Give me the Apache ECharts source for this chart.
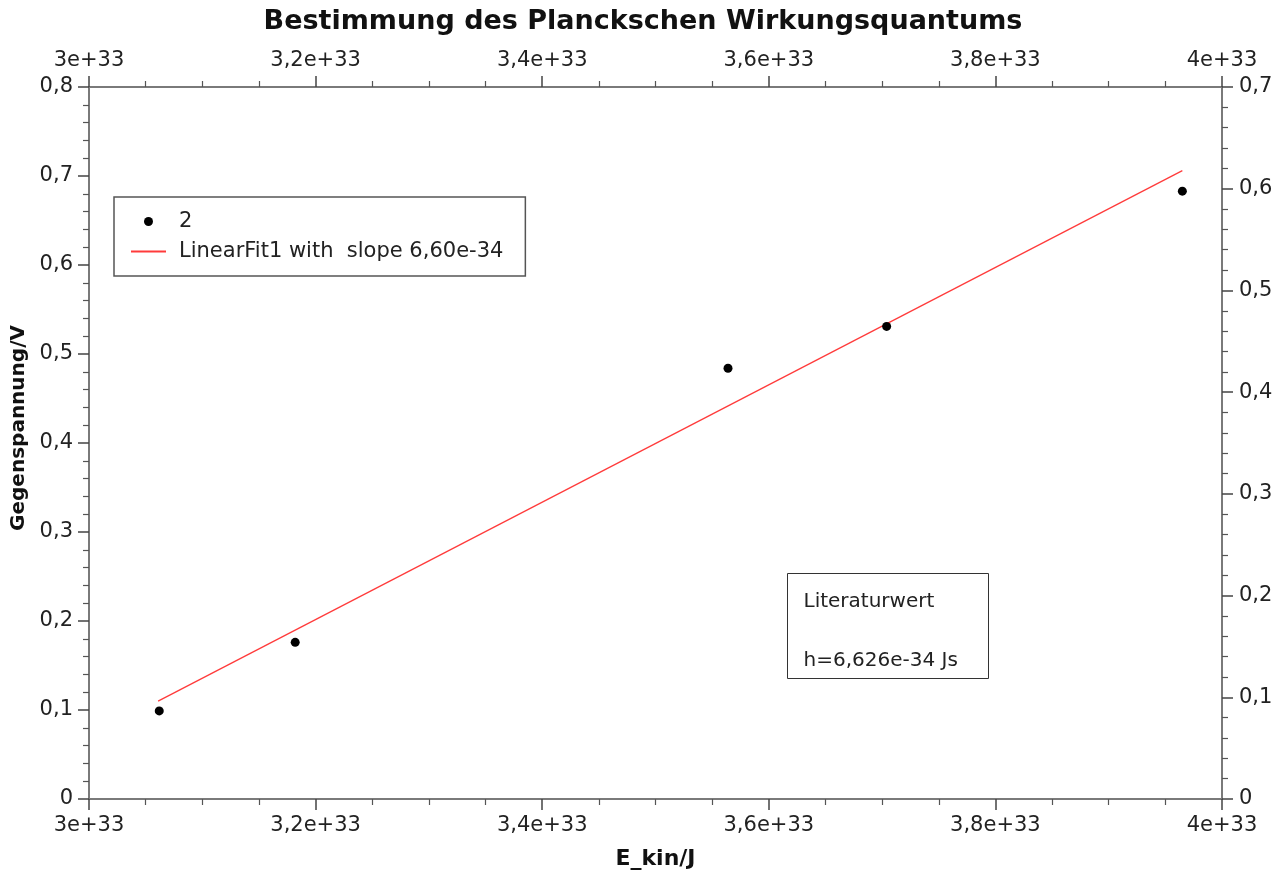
<!DOCTYPE html>
<html>
<head>
<meta charset="utf-8">
<script src="https://cdn.jsdelivr.net/npm/echarts@6/dist/echarts.min.js"></script>
<style>
    html, body { margin: 0; padding: 0; background: #fff; overflow: hidden; }
    #chart { width: 1286px; height: 874px; }
</style>
</head>
<body>
<div id="chart"></div>
<script>
// Messwerte (E_kin in Einheiten von 1e33 J)
var eKin = [3.062, 3.182, 3.564, 3.704, 3.965];
var gegenspannung = [0.099, 0.176, 0.484, 0.531, 0.683];
// Ausgleichsgerade, Anfangs- und Endpunkt
var fitX = [3.061, 3.965];
var fitY = [0.110, 0.706];
// Achsenbeschriftungen
var xTickLabels = ['3e+33', '3,2e+33', '3,4e+33', '3,6e+33', '3,8e+33', '4e+33'];
var yLeftTickLabels = ['0', '0,1', '0,2', '0,3', '0,4', '0,5', '0,6', '0,7', '0,8'];
var yRightTickLabels = ['0', '0,1', '0,2', '0,3', '0,4', '0,5', '0,6', '0,7'];

var FONT = 'DejaVu Sans';
var fitName = 'LinearFit1 with  slope 6,60e-34';

var chart = echarts.init(document.getElementById('chart'));

function xLabel(v) {
    return xTickLabels[Math.round((v - 3) / 0.2)];
}
function yLabel(list) {
    return function (v) { return list[Math.round(v / 0.1)]; };
}

function axisStyle(extra) {
    var base = {
        axisLine: { show: true, onZero: false, lineStyle: { color: '#7a7a7a', width: 2 } },
        axisTick: { show: true, length: 11, lineStyle: { color: '#444', width: 1.5 } },
        splitLine: { show: false }
    };
    for (var k in extra) { base[k] = extra[k]; }
    return base;
}
function minor(n) {
    return { show: true, splitNumber: n, length: 6, lineStyle: { color: '#555', width: 1.2 } };
}
function labels(fmt, margin) {
    return { fontFamily: FONT, fontSize: 21, color: '#222', margin: margin || 16, overflow: 'none', formatter: fmt };
}

var scatterData = eKin.map(function (x, i) { return [x, gegenspannung[i]]; });
var fitData = fitX.map(function (x, i) { return [x, fitY[i]]; });

var option = {
    animation: false,
    backgroundColor: '#fff',
    title: {
        text: 'Bestimmung des Planckschen Wirkungsquantums',
        left: 'center',
        top: 3,
        textStyle: { fontFamily: FONT, fontSize: 27, fontWeight: 'bold', color: '#111' }
    },
    grid: { left: 89, right: 64, top: 87, bottom: 75, containLabel: false, outerBoundsMode: 'none' },
    legend: {
        orient: 'vertical',
        left: 114,
        top: 197,
        padding: [14, 22, 14, 16],
        itemGap: 9,
        itemWidth: 35,
        itemHeight: 9,
        borderColor: '#555',
        borderWidth: 1.5,
        textStyle: { fontFamily: FONT, fontSize: 21, color: '#222', padding: [0, 0, 0, 8] },
        data: [
            { name: '2' },
            { name: fitName, itemStyle: { opacity: 0 } }
        ]
    },
    xAxis: [
        axisStyle({
            type: 'value', position: 'bottom', min: 3, max: 4, interval: 0.2,
            minorTick: minor(4),
            axisLabel: labels(xLabel),
            name: 'E_kin/J', nameLocation: 'middle', nameGap: 49,
            nameTextStyle: { fontFamily: FONT, fontSize: 22, fontWeight: 'bold', color: '#111' }
        }),
        axisStyle({
            type: 'value', position: 'top', min: 3, max: 4, interval: 0.2,
            minorTick: minor(4),
            axisLabel: labels(xLabel)
        })
    ],
    yAxis: [
        axisStyle({
            type: 'value', position: 'left', min: 0, max: 0.8, interval: 0.1,
            minorTick: minor(5),
            axisLabel: labels(yLabel(yLeftTickLabels)),
            name: 'Gegenspannung/V', nameLocation: 'middle', nameGap: 60,
            nameTextStyle: { fontFamily: FONT, fontSize: 20, fontWeight: 'bold', color: '#111', padding: [0, 0, 0, 30] }
        }),
        axisStyle({
            type: 'value', position: 'right', min: 0, max: 0.7, interval: 0.1,
            minorTick: minor(5),
            axisLabel: labels(yLabel(yRightTickLabels), 17)
        })
    ],
    graphic: [{
        type: 'group',
        left: 787,
        top: 573,
        children: [
            { type: 'rect', shape: { x: 0, y: 0, width: 201, height: 105 },
              style: { fill: '#fff', stroke: '#333', lineWidth: 1 } },
            { type: 'text', x: 16, y: 28,
              style: { text: 'Literaturwert', font: '20px "DejaVu Sans"', fill: '#222', verticalAlign: 'middle' } },
            { type: 'text', x: 16, y: 87,
              style: { text: 'h=6,626e-34 Js', font: '20px "DejaVu Sans"', fill: '#222', verticalAlign: 'middle' } }
        ]
    }],
    series: [
        {
            name: fitName,
            type: 'line',
            xAxisIndex: 0,
            yAxisIndex: 0,
            data: fitData,
            symbol: 'none',
            lineStyle: { color: '#ff3b3b', width: 1.3 },
            itemStyle: { color: '#ff3b3b' },
            z: 2
        },
        {
            name: '2',
            type: 'scatter',
            xAxisIndex: 0,
            yAxisIndex: 0,
            data: scatterData,
            symbol: 'circle',
            symbolSize: 9,
            itemStyle: { color: '#000', opacity: 1 },
            z: 3
        }
    ]
};

chart.setOption(option);
</script>
</body>
</html>
